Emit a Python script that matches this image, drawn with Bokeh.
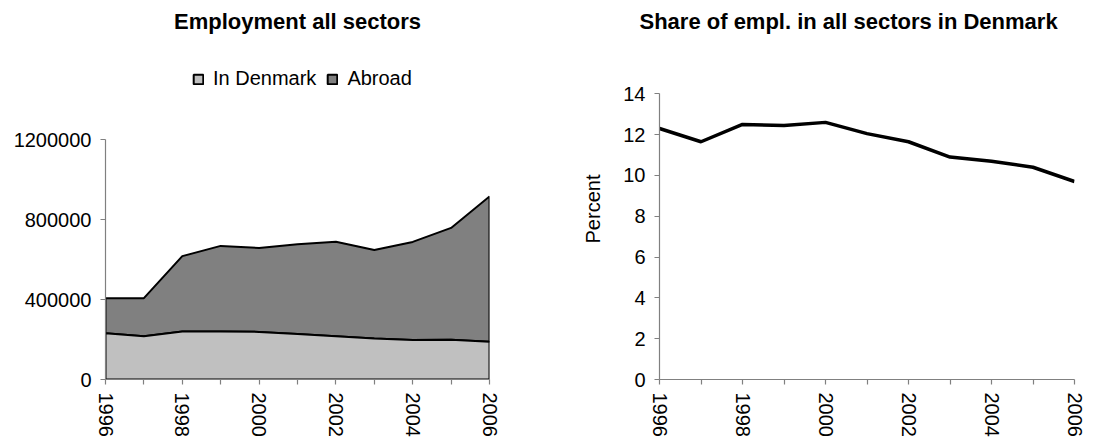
from bokeh.plotting import figure
from bokeh.layouts import row
from bokeh.models import (Range1d, FixedTicker, BasicTickFormatter, Legend, LegendItem)
from bokeh.embed import file_html
from bokeh.resources import INLINE

# ---- data ----
years = [1996, 1997, 1998, 1999, 2000, 2001, 2002, 2003, 2004, 2005, 2006]
in_denmark = [231500, 216500, 240000, 240000, 238000, 228000, 216500, 205000, 198000, 199000, 188500]
abroad = [175000, 190000, 377000, 428000, 420000, 448000, 472000, 442000, 490000, 559000, 727000]
share_denmark = [12.3, 11.65, 12.5, 12.45, 12.6, 12.05, 11.65, 10.9, 10.7, 10.4, 9.7]
year_labels = {y: (str(y) if y % 2 == 0 else "") for y in years}
left_yticks = [0, 400000, 800000, 1200000]
right_yticks = [0, 2, 4, 6, 8, 10, 12, 14]
series_names = ["In Denmark", "Abroad"]
left_title = "Employment all sectors"
right_title = "Share of empl. in all sectors in Denmark"
right_ylabel = "Percent"

FONT = "Liberation Sans"
AXIS_COLOR = "#808080"
TOP = 38  # top border (px) holding the titles


def style(p, title):
    for ax in (p.xaxis[0], p.yaxis[0]):
        ax.axis_line_color = AXIS_COLOR
        ax.axis_line_width = 1.2
        ax.major_tick_line_color = AXIS_COLOR
        ax.major_tick_line_width = 1.2
        ax.major_tick_in = 0
        ax.major_tick_out = 5
        ax.minor_tick_line_color = None
        ax.major_label_text_font = FONT
        ax.major_label_text_font_size = "20px"
        ax.major_label_text_color = "black"
    p.xaxis[0].ticker = FixedTicker(ticks=years)
    p.xaxis[0].major_label_overrides = year_labels
    p.xaxis[0].major_label_orientation = "vertical"
    p.xaxis[0].major_label_standoff = 8
    p.yaxis[0].major_label_standoff = 9
    p.xgrid.grid_line_color = None
    p.ygrid.grid_line_color = None
    p.outline_line_color = None
    p.title.text = title
    p.title.text_font = FONT
    p.title.text_font_size = "22px"
    p.title.text_font_style = "bold"
    p.title.text_color = "black"


# ---- left: stacked area ----
total = [a + b for a, b in zip(in_denmark, abroad)]
# frame spans y 38..379 px; 5000 units per px -> top of frame at 1,705,000
p1 = figure(width=548, height=440, output_backend="svg", toolbar_location=None,
            x_range=Range1d(1996, 2006), y_range=Range1d(0, 1705000),
            min_border_left=105, min_border_right=59, min_border_top=TOP, min_border_bottom=61)
style(p1, left_title)
p1.title.align = "center"
p1.yaxis[0].ticker = FixedTicker(ticks=left_yticks)
p1.yaxis[0].bounds = (left_yticks[0], left_yticks[-1])
p1.yaxis[0].formatter = BasicTickFormatter(use_scientific=False)

xs_poly = years + years[::-1]
r_ab = p1.patch(xs_poly, total + in_denmark[::-1], fill_color="#808080", line_color="black", line_width=2)
r_dk = p1.patch(xs_poly, in_denmark + [0] * len(years), fill_color="#C0C0C0", line_color="black", line_width=2)

legend = Legend(items=[LegendItem(label=series_names[0], renderers=[r_dk]),
                       LegendItem(label=series_names[1], renderers=[r_ab])],
                orientation="horizontal", location=(87, 289),
                glyph_width=12, glyph_height=12, label_standoff=9, spacing=10,
                padding=0, margin=0, border_line_alpha=0, background_fill_alpha=0,
                label_text_font=FONT, label_text_font_size="20px", label_text_color="black")
p1.add_layout(legend, "center")

# ---- right: line ----
# frame spans y 38..379 px; 14 at 93.3 px -> top of frame at 16.71
p2 = figure(width=549, height=440, output_backend="svg", toolbar_location=None,
            x_range=Range1d(1996, 2006), y_range=Range1d(0, 16.71),
            min_border_left=111, min_border_right=23, min_border_top=TOP, min_border_bottom=61)
style(p2, right_title)
p2.title.align = "left"
p2.title.offset = -20
p2.yaxis[0].ticker = FixedTicker(ticks=right_yticks)
p2.yaxis[0].bounds = (right_yticks[0], right_yticks[-1])
p2.yaxis[0].axis_label = right_ylabel
p2.yaxis[0].axis_label_text_font = FONT
p2.yaxis[0].axis_label_text_font_size = "20px"
p2.yaxis[0].axis_label_text_font_style = "normal"
p2.yaxis[0].axis_label_text_color = "black"
p2.yaxis[0].axis_label_standoff = 16
p2.line(years, share_denmark, line_color="black", line_width=3.5)

layout = row(p1, p2)
open("out.html", "w").write(file_html(layout, INLINE))
